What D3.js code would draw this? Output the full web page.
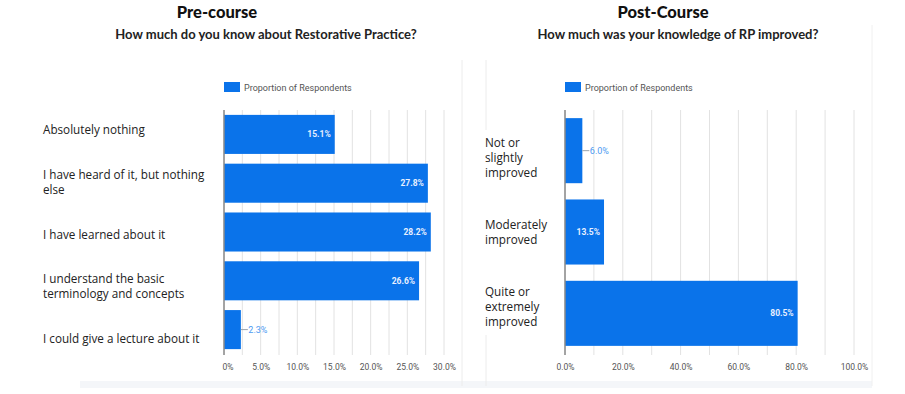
<html>
<head>
  <meta charset="utf-8">
  <script src="https://d3js.org/d3.v7.min.js"></script>
  <style>
    body { margin: 0; background: #fff; }
    .narrow { font-family: "Liberation Sans Narrow", "Roboto", sans-serif; }
  </style>
  <script>
    // pre-course chart
    var preTitle = "Pre-course";
    var preQuestion = "How much do you know about Restorative Practice?";
    var preCategories = ["Absolutely nothing", "I have heard of it, but nothing\nelse",
      "I have learned about it", "I understand the basic\nterminology and concepts",
      "I could give a lecture about it"];
    var preValues = [15.1, 27.8, 28.2, 26.6, 2.3];
    var preTicks = [0, 5, 10, 15, 20, 25, 30];
    var preGrid = [0, 2.5, 5, 7.5, 10, 12.5, 15, 17.5, 20, 22.5, 25, 27.5, 30];

    // post-course chart
    var postTitle = "Post-Course";
    var postQuestion = "How much was your knowledge of RP improved?";
    var postCategories = ["Not or\nslightly\nimproved", "Moderately\nimproved",
      "Quite or\nextremely\nimproved"];
    var postValues = [6.0, 13.5, 80.5];
    var postTicks = [0, 20, 40, 60, 80, 100];
    var postGrid = [0, 10, 20, 30, 40, 50, 60, 70, 80, 90, 100];

    var legendLabel = "Proportion of Respondents";
    var barColor = "#0a73ea";

    function drawPanel(svg, o) {
      var g = svg.append("g");
      var x = d3.scaleLinear().domain(o.domain).range(o.xRange);
      var y = d3.scaleBand().domain(o.cats).range([110, 354])
          .paddingInner(0.2).paddingOuter(0.1);
      // the text boxes on the left sit on their own spacing, not quite on the bars
      var yl = d3.scalePoint().domain(o.cats).range(o.labelRange);

      // titles
      g.append("text").attr("x", o.titleX).attr("y", 18).attr("text-anchor", "middle")
        .style("font-family", "Lato").style("font-weight", 900).style("font-size", "16.5px")
        .attr("fill", "#111").text(o.title);
      g.append("text").attr("x", o.qX).attr("y", 39).attr("text-anchor", "middle")
        .style("font-family", "Lato").style("font-weight", 700).style("font-size", "13px")
        .attr("fill", "#222").text(o.question);

      // legend
      g.append("rect").attr("x", o.xRange[0]).attr("y", 82).attr("width", 16).attr("height", 10)
        .attr("fill", barColor);
      g.append("text").attr("class", "narrow").attr("x", o.xRange[0] + 20).attr("y", 90.5)
        .style("font-size", "9px").attr("fill", "#555").text(legendLabel);

      // gridlines
      g.append("g").selectAll("line").data(o.grid).enter().append("line")
        .attr("x1", d => x(d)).attr("x2", d => x(d))
        .attr("y1", 110).attr("y2", 355)
        .attr("stroke", "#e2e2e2").attr("stroke-width", 1);

      // x axis labels
      var ax = g.append("g").attr("transform", "translate(0,355)")
        .attr("clip-path", o.clip ? "url(#" + o.clip + ")" : null)
        .call(d3.axisBottom(x).tickValues(o.ticks).tickSize(0).tickPadding(9)
          .tickFormat(d => d3.format(".1f")(d) + "%"));
      ax.select(".domain").remove();
      ax.selectAll("text").attr("class", "narrow").style("font-size", "8.5px").attr("fill", "#555");

      // bars
      g.append("g").selectAll("rect").data(o.vals).enter().append("rect")
        .attr("x", x(0)).attr("y", (d, i) => y(o.cats[i]))
        .attr("width", d => x(d) - x(0)).attr("height", y.bandwidth())
        .attr("fill", barColor);

      // zero line
      g.append("line").attr("x1", x(0)).attr("x2", x(0)).attr("y1", 110).attr("y2", 355)
        .attr("stroke", "#8a8a8a").attr("stroke-width", 1.5);

      // value labels
      var vl = g.append("g").selectAll("g").data(o.vals).enter().append("g")
        .attr("transform", (d, i) => "translate(0," + (y(o.cats[i]) + y.bandwidth() / 2) + ")");
      vl.filter(d => x(d) - x(0) > 30).append("text").attr("class", "narrow")
        .attr("x", d => x(d) - 4).attr("dy", "0.35em").attr("text-anchor", "end")
        .style("font-size", "8.5px").style("font-weight", 700).attr("fill", "#e8f0ff")
        .text(d => d.toFixed(1) + "%");
      var small = vl.filter(d => x(d) - x(0) <= 30);
      small.append("line").attr("x1", d => x(d)).attr("x2", d => x(d) + 7)
        .attr("stroke", "#9aa3ad").attr("stroke-width", 1);
      small.append("text").attr("class", "narrow")
        .attr("x", d => x(d) + 7.5).attr("dy", "0.35em")
        .style("font-size", "9px").attr("fill", "#4d9af2")
        .text(d => d.toFixed(1) + "%");

      // category labels
      var cl = g.append("g").selectAll("text").data(o.cats).enter().append("text")
        .attr("x", o.labelX)
        .attr("y", d => yl(d))
        .style("font-family", "'Open Sans'").style("font-size", "11.7px").attr("fill", "#222");
      cl.each(function(d) {
        var lines = d.split("\n");
        var t = d3.select(this);
        lines.forEach(function(s, j) {
          t.append("tspan").attr("x", o.labelX)
            .attr("dy", j === 0 ? ((-(lines.length - 1) * 15) / 2 + 4) + "px" : "15px")
            .text(s);
        });
      });
    }

    function makeChart() {
      var svg = d3.select("#chart");

      svg.append("defs").append("clipPath").attr("id", "preClip")
        .append("rect").attr("x", 222).attr("y", 0).attr("width", 300).attr("height", 40);

      // panel frame
      svg.append("rect").attr("x", 80).attr("y", 381).attr("width", 792).attr("height", 7)
        .attr("fill", "#f4f6f9");
      svg.append("line").attr("x1", 462).attr("x2", 462).attr("y1", 60).attr("y2", 386)
        .attr("stroke", "#ececec");
      svg.append("line").attr("x1", 486).attr("x2", 486).attr("y1", 60).attr("y2", 130)
        .attr("stroke", "#ececec");
      svg.append("line").attr("x1", 486).attr("x2", 486).attr("y1", 335).attr("y2", 386)
        .attr("stroke", "#ececec");
      svg.append("line").attr("x1", 872).attr("x2", 872).attr("y1", 25).attr("y2", 386)
        .attr("stroke", "#f0f0f0");

      drawPanel(svg, {
        title: preTitle, question: preQuestion, cats: preCategories, vals: preValues,
        ticks: preTicks, grid: preGrid, domain: [0, 30], xRange: [224, 444],
        titleX: 217, qX: 266, labelX: 43, labelRange: [130, 339], clip: "preClip"
      });
      drawPanel(svg, {
        title: postTitle, question: postQuestion, cats: postCategories, vals: postValues,
        ticks: postTicks, grid: postGrid, domain: [0, 100], xRange: [565, 854],
        titleX: 663, qX: 678, labelX: 485, labelRange: [158, 307], clip: null
      });
    }
  </script>
</head>
<body onload="makeChart()">
  <svg id="chart" width="905" height="394"></svg>
</body>
</html>
